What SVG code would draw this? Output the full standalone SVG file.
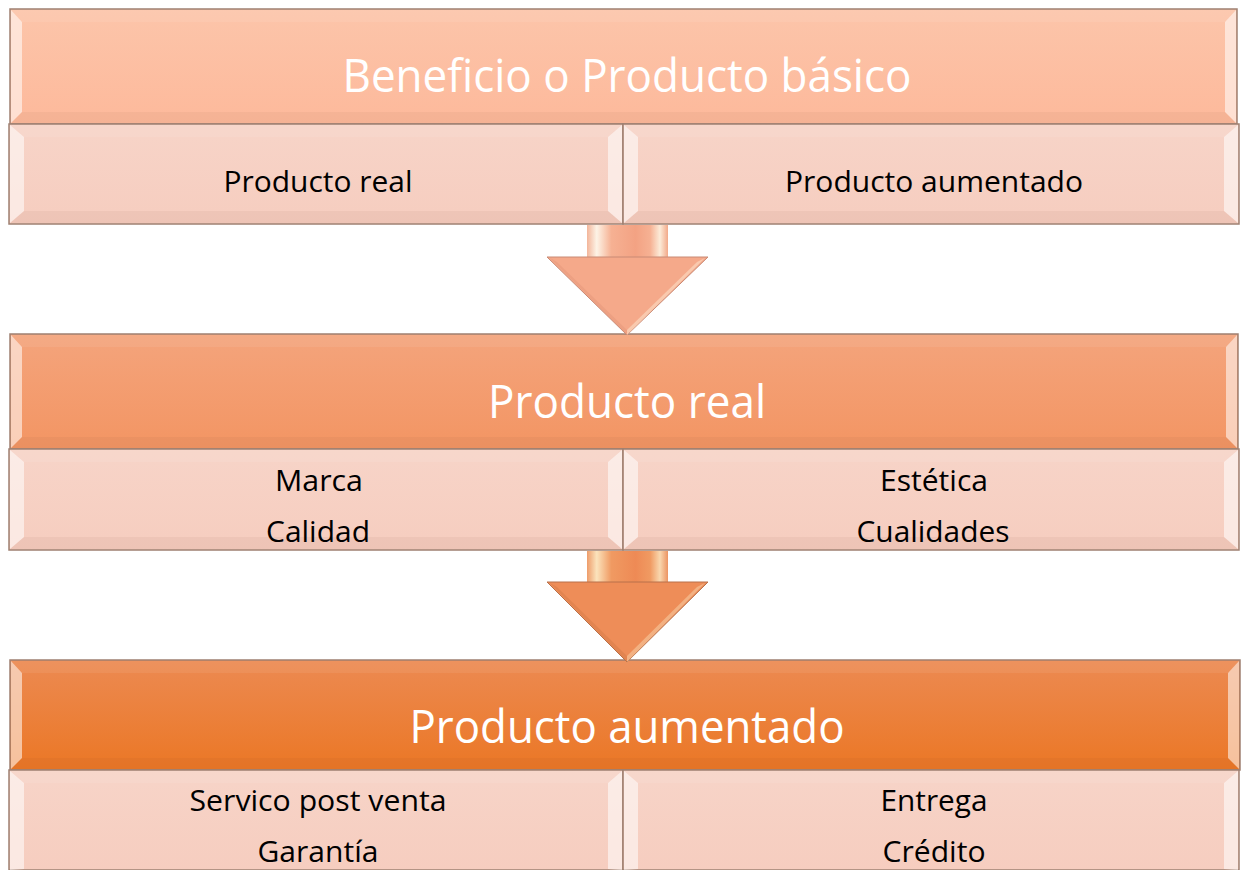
<svg xmlns="http://www.w3.org/2000/svg" width="1241" height="870" viewBox="0 0 1241 870">
<defs>
<linearGradient id="h1" x1="0" y1="0" x2="0" y2="1"><stop offset="0" stop-color="#FCC5AA"/><stop offset="1" stop-color="#FDB99B"/></linearGradient>
<linearGradient id="h2" x1="0" y1="0" x2="0" y2="1"><stop offset="0" stop-color="#F4A47C"/><stop offset="1" stop-color="#F39563"/></linearGradient>
<linearGradient id="h3" x1="0" y1="0" x2="0" y2="1"><stop offset="0" stop-color="#EC8A52"/><stop offset="1" stop-color="#EB7725"/></linearGradient>
<linearGradient id="sb" x1="0" y1="0" x2="0" y2="1"><stop offset="0" stop-color="#F7D4C8"/><stop offset="1" stop-color="#F6CDBF"/></linearGradient>
<linearGradient id="sh1" x1="0" y1="0" x2="1" y2="0"><stop offset="0" stop-color="#F3B59A"/><stop offset="0.12" stop-color="#FDF3E6"/><stop offset="0.3" stop-color="#F6B193"/><stop offset="0.6" stop-color="#F3A283"/><stop offset="0.78" stop-color="#F6B193"/><stop offset="0.9" stop-color="#FCEBD8"/><stop offset="1" stop-color="#F2A989"/></linearGradient>
<linearGradient id="sh2" x1="0" y1="0" x2="1" y2="0"><stop offset="0" stop-color="#EE9C6A"/><stop offset="0.12" stop-color="#FBE3BC"/><stop offset="0.3" stop-color="#F09A62"/><stop offset="0.6" stop-color="#EE8A55"/><stop offset="0.78" stop-color="#F09A62"/><stop offset="0.9" stop-color="#F9D7AE"/><stop offset="1" stop-color="#EC9462"/></linearGradient>
<style>
.bd{stroke:#9E8072;stroke-width:1.5}
.hl{fill:#FFFFFF;opacity:0.55}
.tp{fill:#FFFFFF;opacity:0.07}
.bt{fill:#7A4A30;opacity:0.06}
.big{font-family:"Open Sans","Noto Sans",sans-serif;font-size:45px;fill:#FFFFFF;text-anchor:middle}
.sm{font-family:"Open Sans","Noto Sans",sans-serif;font-size:29px;fill:#000000;text-anchor:middle}
</style>
</defs>

<g id="block1-header">
<rect x="10" y="9" width="1227" height="115" fill="url(#h1)" class="bd"/>
<polygon class="hl" points="11,10 22,22 22,112 11,123"/>
<polygon class="hl" points="1236,10 1225,22 1225,112 1236,123"/>
<polygon class="tp" points="11,10 1236,10 1225,22 22,22"/>
<polygon class="bt" points="11,123 1236,123 1225,112 22,112"/>
<text class="big" x="627" y="92" textLength="569" lengthAdjust="spacingAndGlyphs">Beneficio o Producto básico</text>
</g>
<g id="block1-left">
<rect x="9" y="124" width="614" height="100" fill="url(#sb)" class="bd"/>
<polygon class="hl" points="10,125 24,137 24,211 10,223"/>
<polygon class="hl" points="622,125 608,137 608,211 622,223"/>
<polygon class="tp" points="10,125 622,125 608,137 24,137"/>
<polygon class="bt" points="10,223 622,223 608,211 24,211"/>
<text class="sm" x="318" y="192" textLength="189" lengthAdjust="spacingAndGlyphs">Producto real</text>
</g>
<g id="block1-right">
<rect x="623" y="124" width="616" height="100" fill="url(#sb)" class="bd"/>
<polygon class="hl" points="624,125 638,137 638,211 624,223"/>
<polygon class="hl" points="1238,125 1224,137 1224,211 1238,223"/>
<polygon class="tp" points="624,125 1238,125 1224,137 638,137"/>
<polygon class="bt" points="624,223 1238,223 1224,211 638,211"/>
<text class="sm" x="934" y="192" textLength="298" lengthAdjust="spacingAndGlyphs">Producto aumentado</text>
</g>

<g id="block2-header">
<rect x="10" y="334" width="1228" height="115" fill="url(#h2)" class="bd"/>
<polygon class="hl" points="11,335 22,347 22,437 11,448"/>
<polygon class="hl" points="1237,335 1226,347 1226,437 1237,448"/>
<polygon class="tp" points="11,335 1237,335 1226,347 22,347"/>
<polygon class="bt" points="11,448 1237,448 1226,437 22,437"/>
<text class="big" x="627" y="418" textLength="278" lengthAdjust="spacingAndGlyphs">Producto real</text>
</g>
<g id="block2-left">
<rect x="9" y="449" width="614" height="101" fill="url(#sb)" class="bd"/>
<polygon class="hl" points="10,450 24,462 24,537 10,549"/>
<polygon class="hl" points="622,450 608,462 608,537 622,549"/>
<polygon class="tp" points="10,450 622,450 608,462 24,462"/>
<polygon class="bt" points="10,549 622,549 608,537 24,537"/>
<text class="sm" x="319" y="491" textLength="88" lengthAdjust="spacingAndGlyphs">Marca</text>
<text class="sm" x="318" y="542" textLength="104" lengthAdjust="spacingAndGlyphs">Calidad</text>
</g>
<g id="block2-right">
<rect x="623" y="449" width="616" height="101" fill="url(#sb)" class="bd"/>
<polygon class="hl" points="624,450 638,462 638,537 624,549"/>
<polygon class="hl" points="1238,450 1224,462 1224,537 1238,549"/>
<polygon class="tp" points="624,450 1238,450 1224,462 638,462"/>
<polygon class="bt" points="624,549 1238,549 1224,537 638,537"/>
<text class="sm" x="934" y="491" textLength="108" lengthAdjust="spacingAndGlyphs">Estética</text>
<text class="sm" x="933" y="542" textLength="153" lengthAdjust="spacingAndGlyphs">Cualidades</text>
</g>

<g id="block3-header">
<rect x="10" y="660" width="1230" height="110" fill="url(#h3)" class="bd"/>
<polygon class="hl" points="11,661 22,673 22,758 11,769"/>
<polygon class="hl" points="1239,661 1228,673 1228,758 1239,769"/>
<polygon class="tp" points="11,661 1239,661 1228,673 22,673"/>
<polygon class="bt" points="11,769 1239,769 1228,758 22,758"/>
<text class="big" x="627" y="743" textLength="435" lengthAdjust="spacingAndGlyphs">Producto aumentado</text>
</g>
<g id="block3-left">
<rect x="9" y="770" width="614" height="100" fill="url(#sb)" class="bd"/>
<polygon class="hl" points="10,771 24,783 24,869 10,870"/>
<polygon class="hl" points="622,771 608,783 608,869 622,870"/>
<polygon class="tp" points="10,771 622,771 608,783 24,783"/>
<text class="sm" x="318" y="811" textLength="257" lengthAdjust="spacingAndGlyphs">Servico post venta</text>
<text class="sm" x="318" y="862" textLength="121" lengthAdjust="spacingAndGlyphs">Garantía</text>
</g>
<g id="block3-right">
<rect x="623" y="770" width="616" height="100" fill="url(#sb)" class="bd"/>
<polygon class="hl" points="624,771 638,783 638,869 624,870"/>
<polygon class="hl" points="1238,771 1224,783 1224,869 1238,870"/>
<polygon class="tp" points="624,771 1238,771 1224,783 638,783"/>
<text class="sm" x="934" y="811" textLength="107" lengthAdjust="spacingAndGlyphs">Entrega</text>
<text class="sm" x="934" y="862" textLength="103" lengthAdjust="spacingAndGlyphs">Crédito</text>
</g>

<g id="connectors">
<g id="arrow1">
<rect x="587" y="225" width="81" height="34" fill="url(#sh1)"/>
<polygon points="547,257 708,257 627,335" fill="#F5A98A" stroke="#C98A75" stroke-width="1"/>
<polygon points="627,330 697,262 705,258 627,335" fill="#FCE3CC" opacity="0.55"/>
<polygon points="627,330 557,262 550,258 627,335" fill="#D98B70" opacity="0.3"/>
</g>
<g id="arrow2">
<rect x="587" y="551" width="81" height="33" fill="url(#sh2)"/>
<polygon points="547,582 708,582 627,662" fill="#EE8D58" stroke="#B8714A" stroke-width="1"/>
<polygon points="627,656 697,587 705,583 627,662" fill="#F8CFA6" opacity="0.55"/>
<polygon points="627,656 557,587 550,583 627,662" fill="#C8703F" opacity="0.3"/>
</g>
</g>
</svg>
